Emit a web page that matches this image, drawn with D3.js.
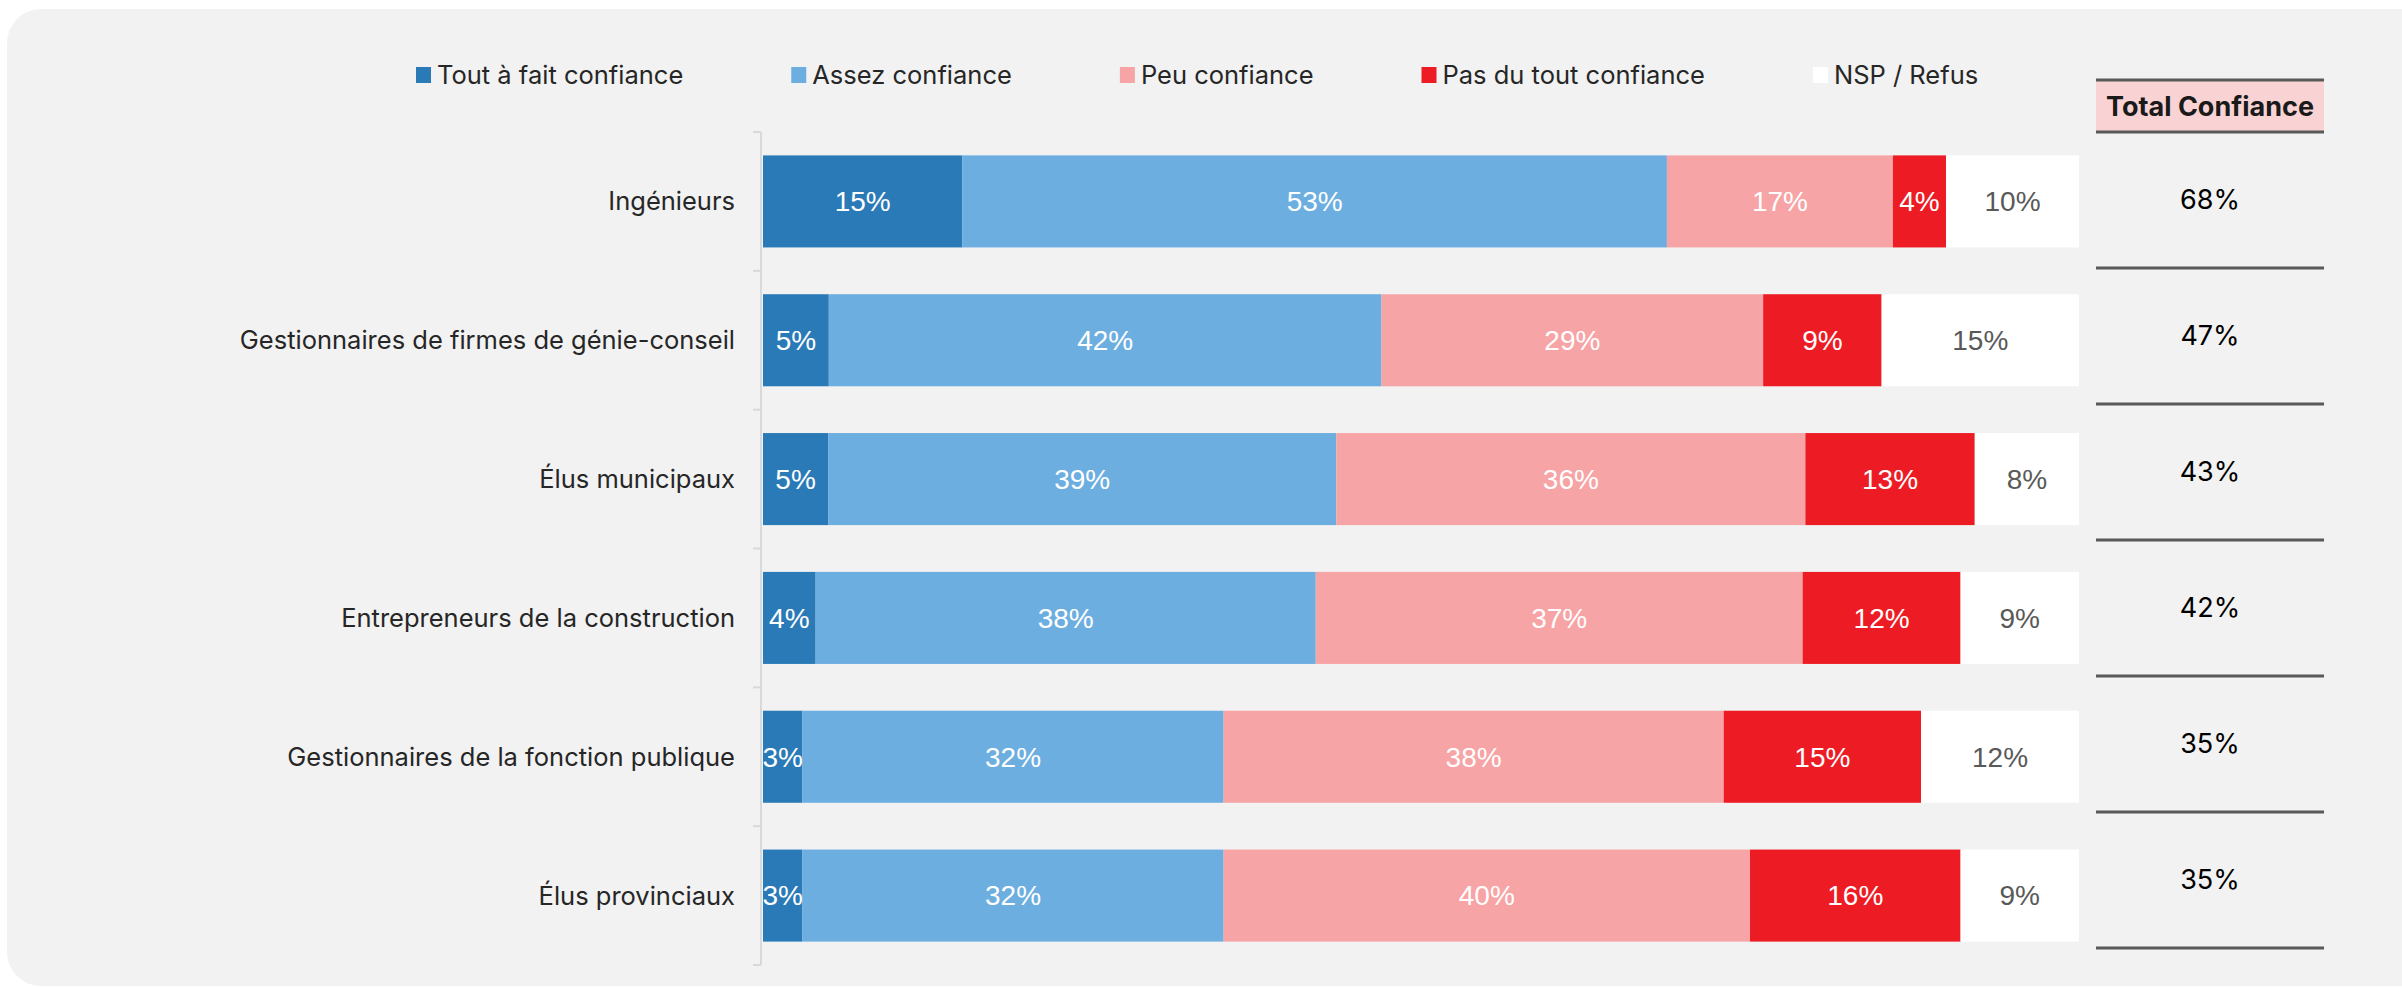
<!DOCTYPE html>
<html lang="fr">
<head>
<meta charset="utf-8">
<script src="https://cdn.jsdelivr.net/npm/d3@7"></script>
<style>
  body { margin: 0; background: #ffffff; }
  svg { display: block; }
</style>
</head>
<body>
<div class="chartcontainer"></div>
<script>
// données
const categories = [
  'Ingénieurs',
  'Gestionnaires de firmes de génie-conseil',
  'Élus municipaux',
  'Entrepreneurs de la construction',
  'Gestionnaires de la fonction publique',
  'Élus provinciaux',
];
const seriesNames = [
  'Tout à fait confiance',
  'Assez confiance',
  'Peu confiance',
  'Pas du tout confiance',
  'NSP / Refus',
];
const toutAFait = [15, 5, 5, 4, 3, 3];
const assez = [53, 42, 39, 38, 32, 32];
const peu = [17, 29, 36, 37, 38, 40];
const pasDuTout = [4, 9, 13, 12, 15, 16];
const nsp = [10, 15, 8, 9, 12, 9];
const totalConfiance = [68, 47, 43, 42, 35, 35];
const tableTitle = 'Total Confiance';

const colors = ['#2a7ab7', '#6daee0', '#f7a4a6', '#ed1c24', '#ffffff'];
const labelFont = '"Inter", "Noto Sans", sans-serif';
const numFont = '"Liberation Sans", Arial, sans-serif';

const W = 2402;
const H = 987;

const rows = categories.map((c, i) => ({
  cat: c,
  [seriesNames[0]]: toutAFait[i],
  [seriesNames[1]]: assez[i],
  [seriesNames[2]]: peu[i],
  [seriesNames[3]]: pasDuTout[i],
  [seriesNames[4]]: nsp[i],
}));

const svg = d3
  .select('.chartcontainer')
  .append('svg')
  .attr('width', W)
  .attr('height', H);

// fond gris arrondi
svg
  .append('rect')
  .attr('x', 7)
  .attr('y', 9)
  .attr('width', W + 30)
  .attr('height', 977)
  .attr('rx', 34)
  .attr('fill', '#f2f2f2');

const y = d3
  .scaleBand()
  .domain(categories)
  .range([132, 965])
  .paddingInner(0.337)
  .paddingOuter(0.337 / 2);

const x = d3.scaleLinear().domain([0, 1]).range([763, 2079]);

const color = d3.scaleOrdinal().domain(seriesNames).range(colors);

const stack = d3
  .stack()
  .keys(seriesNames)
  .offset(d3.stackOffsetExpand);
const series = stack(rows);

// axe vertical avec graduations entre les catégories
const axisG = svg.append('g').attr('class', 'axis');
const half = (y.step() * y.paddingInner()) / 2;
const bounds = categories.map(c => y(c) - half);
bounds.push(y(categories[categories.length - 1]) + y.bandwidth() + half);
axisG
  .append('line')
  .attr('x1', 761)
  .attr('x2', 761)
  .attr('y1', bounds[0])
  .attr('y2', bounds[bounds.length - 1])
  .attr('stroke', '#d9d9d9')
  .attr('stroke-width', 2);
axisG
  .selectAll('.tick')
  .data(bounds)
  .enter()
  .append('line')
  .attr('class', 'tick')
  .attr('x1', 753)
  .attr('x2', 761)
  .attr('y1', d => d)
  .attr('y2', d => d)
  .attr('stroke', '#d9d9d9')
  .attr('stroke-width', 2);

// libellés des catégories
svg
  .selectAll('.cat-label')
  .data(categories)
  .enter()
  .append('text')
  .attr('class', 'cat-label')
  .attr('x', 735)
  .attr('y', d => y(d) + y.bandwidth() / 2)
  .attr('dy', '0.35em')
  .attr('text-anchor', 'end')
  .style('font', `25.5px ${labelFont}`)
  .style('fill', '#262626')
  .text(d => d);

// barres empilées
const layers = svg
  .selectAll('.layer')
  .data(series)
  .enter()
  .append('g')
  .attr('class', 'layer')
  .attr('fill', d => color(d.key));

layers
  .selectAll('rect')
  .data(d => d)
  .enter()
  .append('rect')
  .attr('x', d => x(d[0]))
  .attr('y', d => y(d.data.cat))
  .attr('width', d => x(d[1]) - x(d[0]))
  .attr('height', y.bandwidth());

layers
  .selectAll('text')
  .data(d => d.map(v => Object.assign(v, {key: d.key})))
  .enter()
  .append('text')
  .attr('x', d => x((d[0] + d[1]) / 2))
  .attr('y', d => y(d.data.cat) + y.bandwidth() / 2)
  .attr('dy', '0.35em')
  .attr('text-anchor', 'middle')
  .style('font', `28px ${numFont}`)
  .style('fill', d => (d.key === seriesNames[4] ? '#595959' : '#ffffff'))
  .text(d => `${d.data[d.key]}%`);

// légende
const legend = svg.append('g').attr('class', 'legend');
let lx = 416;
seriesNames.forEach((name, i) => {
  const item = legend.append('g').attr('transform', `translate(${lx},75)`);
  item
    .append('rect')
    .attr('x', 0)
    .attr('y', -8)
    .attr('width', 15)
    .attr('height', 16)
    .attr('fill', colors[i]);
  const t = item
    .append('text')
    .attr('x', 21)
    .attr('dy', '0.35em')
    .style('font', `25.5px ${labelFont}`)
    .style('fill', '#262626')
    .text(name);
  lx += 21 + t.node().getComputedTextLength() + 108;
});

// tableau Total Confiance
const tx0 = 2096;
const tx1 = 2324;
const yt = d3.scaleBand().domain(categories).range([132, 948]);

const table = svg.append('g').attr('class', 'table');
table
  .append('rect')
  .attr('x', tx0)
  .attr('y', 80)
  .attr('width', tx1 - tx0)
  .attr('height', 52)
  .attr('fill', '#f9d3d4');
table
  .selectAll('.hline')
  .data([80, 132])
  .enter()
  .append('line')
  .attr('class', 'hline')
  .attr('x1', tx0)
  .attr('x2', tx1)
  .attr('y1', d => d)
  .attr('y2', d => d)
  .attr('stroke', '#595959')
  .attr('stroke-width', 3);
table
  .append('text')
  .attr('x', (tx0 + tx1) / 2)
  .attr('y', 107)
  .attr('dy', '0.35em')
  .attr('text-anchor', 'middle')
  .style('font', `bold 27px ${labelFont}`)
  .style('fill', '#1a1a1a')
  .text(tableTitle);

table
  .selectAll('.total')
  .data(totalConfiance)
  .enter()
  .append('text')
  .attr('class', 'total')
  .attr('x', (tx0 + tx1) / 2)
  .attr('y', (d, i) => yt(categories[i]) + yt.bandwidth() / 2)
  .attr('dy', '0.35em')
  .attr('text-anchor', 'middle')
  .style('font', `27px ${labelFont}`)
  .style('fill', '#000000')
  .text(d => `${d}%`);

table
  .selectAll('.rowline')
  .data(categories)
  .enter()
  .append('line')
  .attr('class', 'rowline')
  .attr('x1', tx0)
  .attr('x2', tx1)
  .attr('y1', d => yt(d) + yt.bandwidth())
  .attr('y2', d => yt(d) + yt.bandwidth())
  .attr('stroke', '#595959')
  .attr('stroke-width', 3);
</script>
</body>
</html>
